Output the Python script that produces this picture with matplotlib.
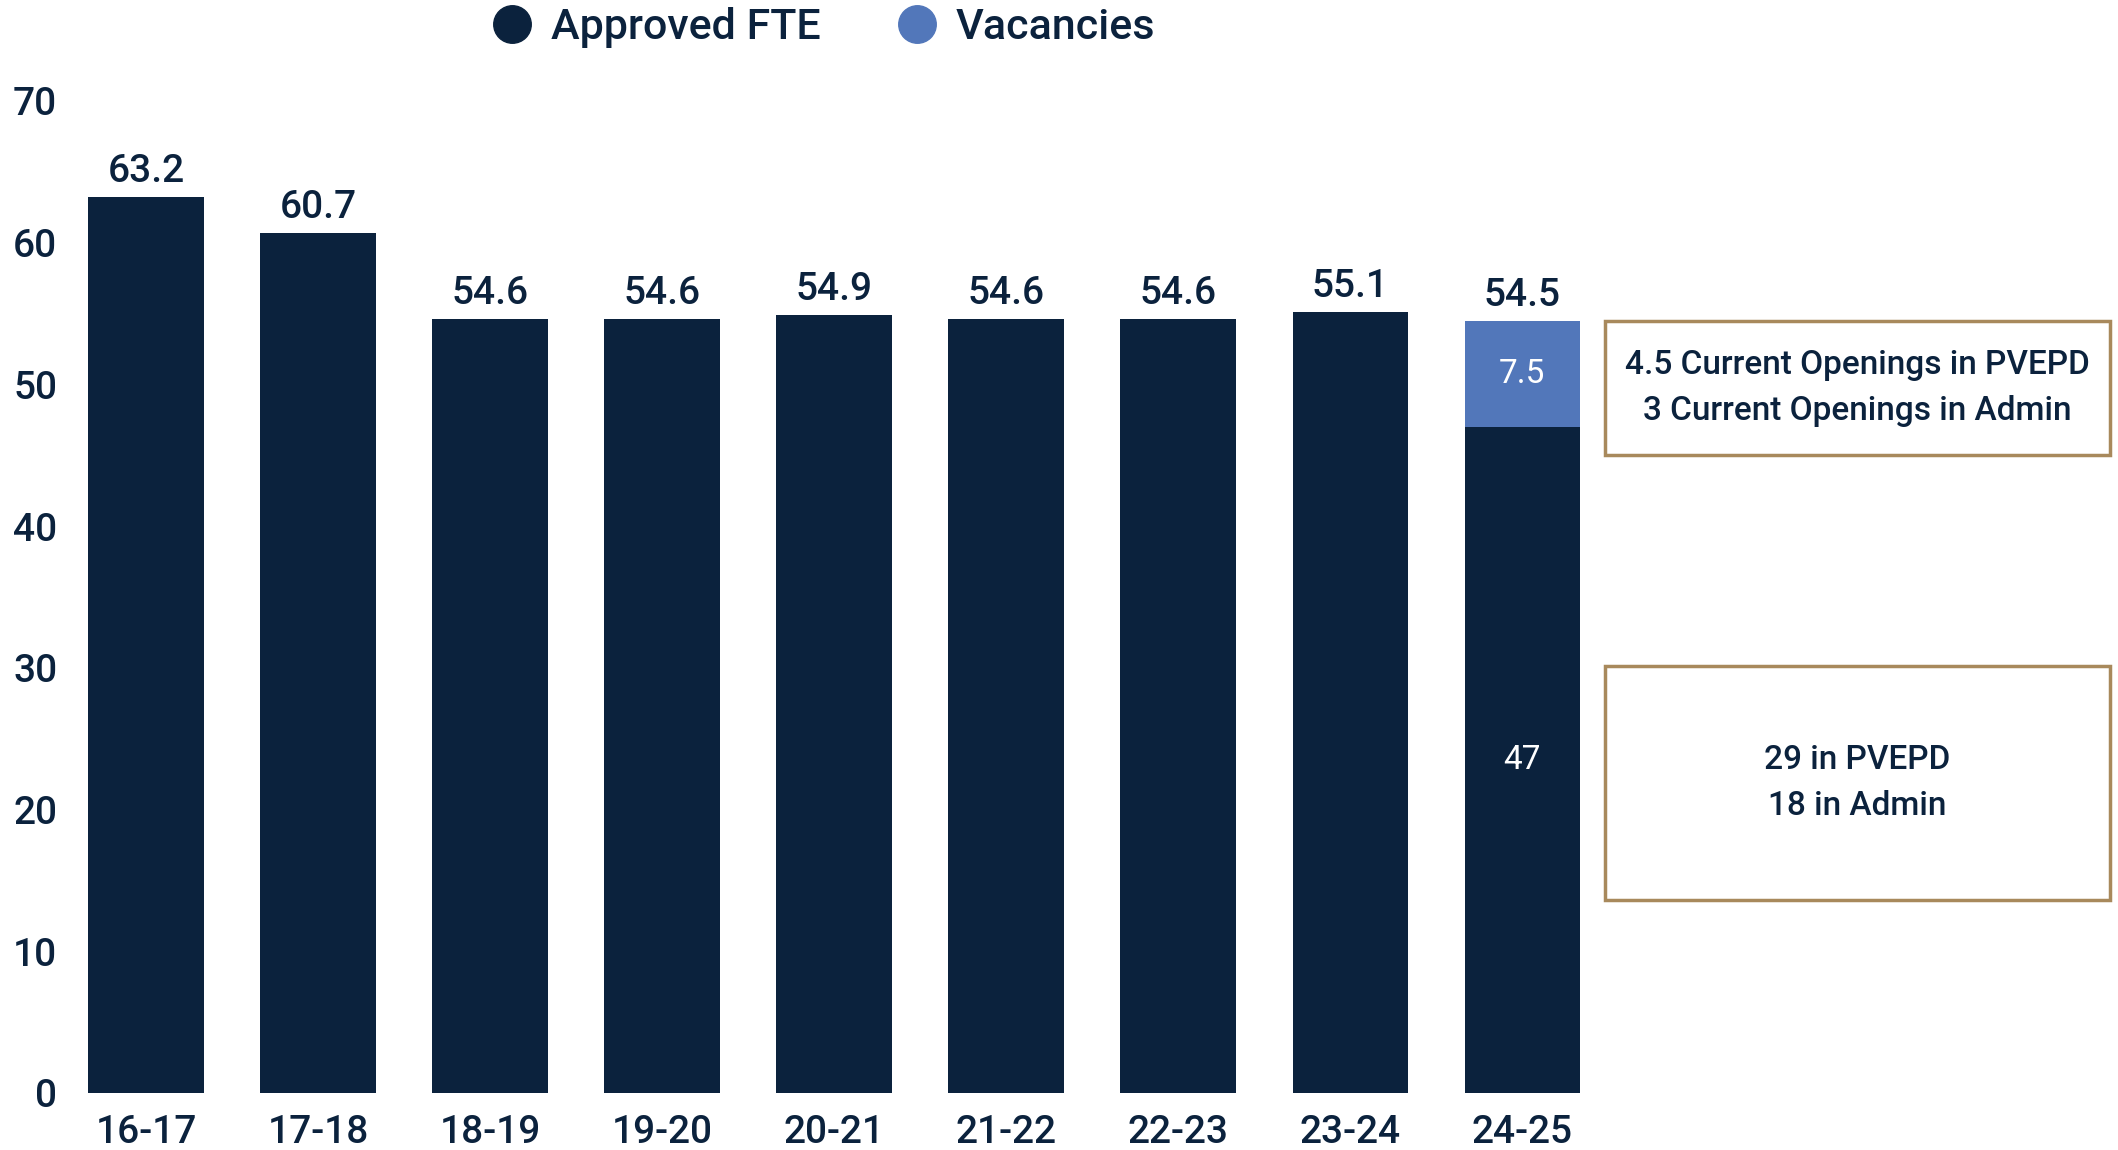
import matplotlib.pyplot as plt
from matplotlib.lines import Line2D
from matplotlib.patches import Rectangle

years = ["16-17", "17-18", "18-19", "19-20", "20-21", "21-22", "22-23", "23-24", "24-25"]
approved = [63.2, 60.7, 54.6, 54.6, 54.9, 54.6, 54.6, 55.1, 47]
vacancies = [0, 0, 0, 0, 0, 0, 0, 0, 7.5]
yticks = [0, 10, 20, 30, 40, 50, 60, 70]
note_top = "4.5 Current Openings in PVEPD\n3 Current Openings in Admin"
note_bottom = "29 in PVEPD\n18 in Admin"

navy = "#0B223D"
blue = "#5277BA"
tan = "#A8895C"

plt.rcParams['font.family'] = ['Roboto', 'DejaVu Sans']

fig = plt.figure(figsize=(21.18, 11.5), dpi=100)
ax = fig.add_axes([0.0283, 0.0496, 0.731, 0.8626])

x = range(len(years))
ax.bar(x, approved, width=0.67, color=navy)
ax.bar(x, vacancies, width=0.67, bottom=approved, color=blue)

# totals above bars
for i in x:
    total = approved[i] + vacancies[i]
    ax.annotate(f"{total:g}", (i, total), xytext=(0, 5), textcoords="offset points",
                ha="center", va="bottom", fontsize=28, fontweight="medium", color=navy)

# labels inside the split bar
last = len(years) - 1
ax.text(last, approved[last] / 2, f"{approved[last]:g}", ha="center", va="center",
        fontsize=24, color="white")
ax.text(last, approved[last] + vacancies[last] / 2, f"{vacancies[last]:g}", ha="center",
        va="center", fontsize=24, color="white")

ax.set_xlim(-0.5, len(years) - 0.5)
ax.set_ylim(0, 70)
ax.set_xticks(list(x))
ax.set_xticklabels(years)
ax.set_yticks(yticks)
ax.tick_params(axis="x", length=0, pad=15.5, labelsize=28, labelcolor=navy)
ax.tick_params(axis="y", length=0, pad=2, labelsize=28, labelcolor=navy)
for lab in ax.get_xticklabels() + ax.get_yticklabels():
    lab.set_fontweight("medium")
for s in ax.spines.values():
    s.set_visible(False)

# note boxes to the right
for (y0, h, txt) in [(0.6043, 0.1166, note_top), (0.2174, 0.2035, note_bottom)]:
    fig.patches.append(Rectangle((0.7578, y0), 0.2384, h, transform=fig.transFigure,
                                 fill=False, edgecolor=tan, linewidth=2.5))
    fig.text(0.7578 + 0.2384 / 2, y0 + h / 2, txt, ha="center", va="center",
             fontsize=24, fontweight="medium", color=navy, linespacing=1.55)

handles = [Line2D([], [], marker="o", linestyle="none", markersize=27, color=navy),
           Line2D([], [], marker="o", linestyle="none", markersize=27, color=blue)]
leg = fig.legend(handles, ["Approved FTE", "Vacancies"], loc="center",
                 bbox_to_anchor=(0.389, 0.9757), ncol=2, frameon=False,
                 fontsize=31, handlelength=0.9, handletextpad=0.45, columnspacing=1.8)
for t in leg.get_texts():
    t.set_color(navy)
    t.set_fontweight("medium")

fig.savefig("out.png", dpi=100)
